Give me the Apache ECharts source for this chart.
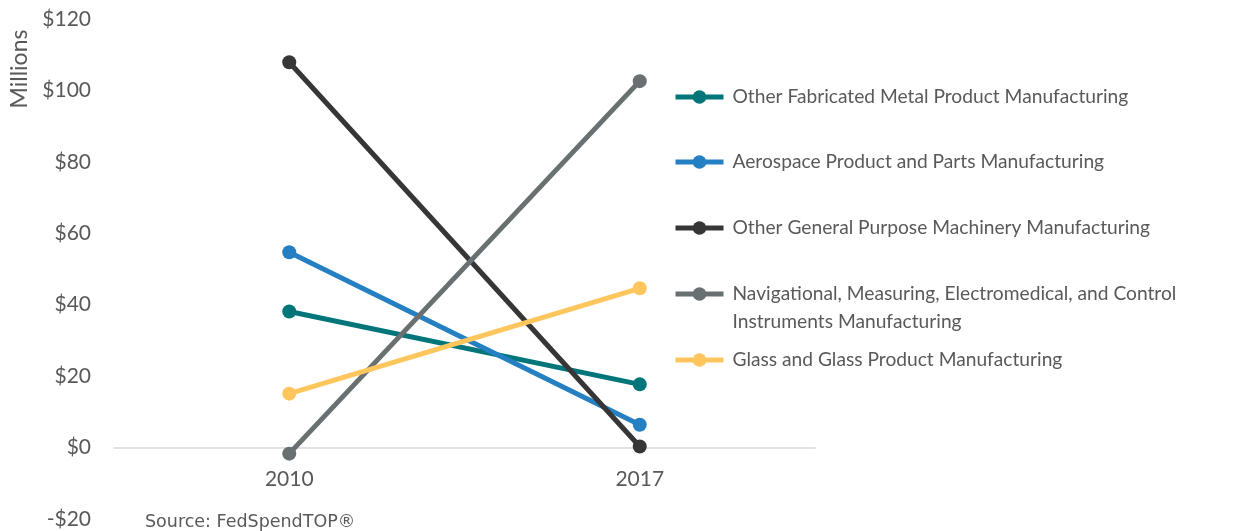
<!DOCTYPE html>
<html>
<head>
<meta charset="utf-8">
<script src="https://cdn.jsdelivr.net/npm/echarts@6/dist/echarts.min.js"></script>
<style>html,body{margin:0;padding:0;background:#fff;}#c{width:1259px;height:531px;}</style>
</head>
<body>
<div id="c"></div>
<script>
var categories = ['2010', '2017'];
var seriesNames = [
  'Other Fabricated Metal Product Manufacturing',
  'Aerospace Product and Parts Manufacturing',
  'Other General Purpose Machinery Manufacturing',
  'Navigational, Measuring, Electromedical, and Control Instruments Manufacturing',
  'Glass and Glass Product Manufacturing'
];
var fabricatedMetal = [38.1, 17.7];
var aerospace = [54.7, 6.4];
var generalMachinery = [107.9, 0.3];
var navigational = [-1.7, 102.6];
var glass = [15.1, 44.6];
var yTicks = [-20, 0, 20, 40, 60, 80, 100, 120];
var colors = ['#00767A', '#2580C3', '#363636', '#687072', '#FFC65E'];
var values = [fabricatedMetal, aerospace, generalMachinery, navigational, glass];

var chart = echarts.init(document.getElementById('c'));
var legendCenters = [97, 162, 228, 294, 360];
var legends = seriesNames.map(function (n, i) {
  var two = i === 3;
  return {
    data: [n],
    orient: 'vertical',
    left: 673,
    top: legendCenters[i] - (two ? 42 : 14),
    padding: 0,
    itemWidth: 48,
    itemHeight: 17,
    itemGap: 0,
    lineStyle: { width: 5 },
    formatter: function (name) {
      if (two) {
        return '{e| }\n{t|Navigational, Measuring, Electromedical, and Control}\n{t|Instruments Manufacturing}';
      }
      return '{t|' + name + '}';
    },
    textStyle: {
      fontFamily: 'Lato',
      fontSize: 19,
      color: '#595959',
      lineHeight: 28,
      rich: {
        e: { fontFamily: 'Lato', fontSize: 19, lineHeight: 28 },
        t: { fontFamily: 'Lato', fontSize: 19.2, lineHeight: 28, color: '#595959', padding: [0, 0, 0, 4] }
      }
    }
  };
});
chart.setOption({
  animation: false,
  color: colors,
  grid: { left: 114, right: 444, top: 19, bottom: 12, containLabel: false, outerBoundsMode: 'none' },
  legend: legends,
  xAxis: {
    type: 'category',
    data: categories,
    boundaryGap: true,
    axisLine: { onZero: true, lineStyle: { color: '#D9D9D9', width: 1.5 } },
    axisTick: { show: false },
    axisLabel: { fontFamily: 'Lato', fontSize: 21, color: '#595959', margin: -50 }
  },
  yAxis: {
    type: 'value',
    min: yTicks[0],
    max: yTicks[yTicks.length - 1],
    interval: 20,
    axisLine: { show: false },
    axisTick: { show: false },
    splitLine: { show: false },
    axisLabel: {
      fontFamily: 'Lato', fontSize: 21, color: '#595959', margin: 23,
      formatter: function (v) { return v < 0 ? '-$' + Math.abs(v) : '$' + v; }
    }
  },
  graphic: [
    { type: 'text', x: 20, y: 69, rotation: Math.PI / 2,
      style: { text: 'Millions', font: '23px Lato', fill: '#595959', textAlign: 'center', textVerticalAlign: 'middle' } },
    { type: 'text', left: 145, top: 513,
      style: { text: 'Source: FedSpendTOP\u00AE', font: '17.5px "DejaVu Sans"', fill: '#595959' } }
  ],
  series: seriesNames.map(function (n, i) {
    return {
      name: n,
      type: 'line',
      data: values[i],
      symbol: 'circle',
      symbolSize: 14,
      lineStyle: { width: 5 },
      itemStyle: { color: colors[i] }
    };
  })
});
</script>
</body>
</html>
